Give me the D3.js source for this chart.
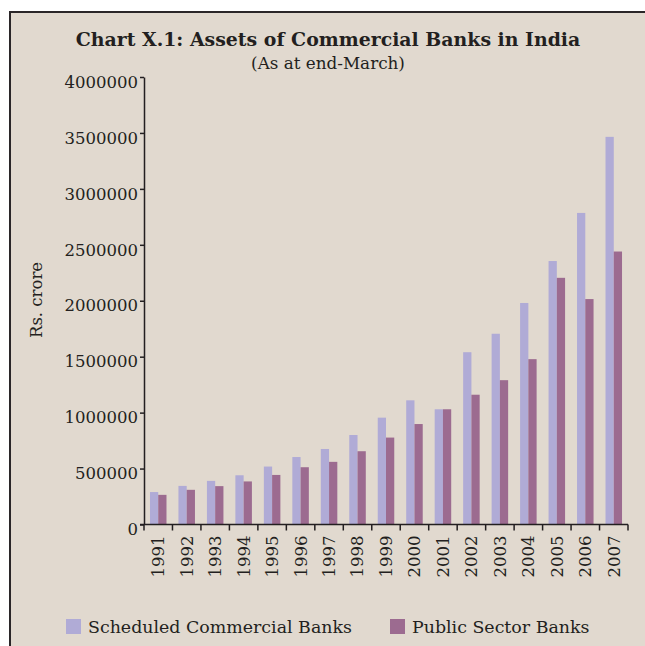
<!DOCTYPE html>
<html>
<head>
<meta charset="utf-8">
<script src="https://cdn.jsdelivr.net/npm/d3@7"></script>
<style>
  body { margin: 0; background: #fff; }
  text { font-family: "DejaVu Serif", serif; fill: #231f20; }
</style>
</head>
<body>
<div id="chart"></div>
<script>
// values in Rs. crore
const years = ['1991', '1992', '1993', '1994', '1995', '1996', '1997', '1998', '1999',
               '2000', '2001', '2002', '2003', '2004', '2005', '2006', '2007'];
const scheduled = [290000, 345000, 390000, 440000, 518000, 603000, 675000, 800000, 955000,
                   1110000, 1030000, 1540000, 1705000, 1980000, 2355000, 2785000, 3465000];
const publicSector = [265000, 310000, 343000, 385000, 443000, 512000, 560000, 655000, 777000,
                      898000, 1030000, 1160000, 1290000, 1478000, 2205000, 2015000, 2440000];
const seriesNames = ['Scheduled Commercial Banks', 'Public Sector Banks'];
const yTicks = [0, 500000, 1000000, 1500000, 2000000, 2500000, 3000000, 3500000, 4000000];

const colors = ['#b0abd6', '#9c6b90'];

const w = 645;
const h = 646;
const pLeft = 144, pRight = 628, pTop = 77, pBottom = 524.5;

const svg = d3.select('#chart')
    .append('svg')
    .attr('width', w)
    .attr('height', h);

// panel
svg.append('rect')
    .attr('x', 9)
    .attr('y', 11)
    .attr('width', w - 9)
    .attr('height', h - 11)
    .attr('fill', '#e1d9cf');
svg.append('path')
    .attr('d', 'M10,' + h + 'V12H' + w)
    .attr('stroke', '#2a2628')
    .attr('stroke-width', 2)
    .attr('fill', 'none');

// title
const title = svg.append('text')
    .text('Chart X.1: Assets of Commercial Banks in India')
    .attr('x', 328)
    .attr('y', 46)
    .attr('text-anchor', 'middle')
    .attr('font-weight', 'bold')
    .attr('font-size', 18);
const tw = title.node().getComputedTextLength();
title.attr('font-size', 18 * 505 / tw);

svg.append('text')
    .text('(As at end-March)')
    .attr('x', 328)
    .attr('y', 69)
    .attr('text-anchor', 'middle')
    .attr('font-size', 16.8);

const xScale = d3.scaleBand(years, [pLeft, pRight]);
const bw = xScale.bandwidth();
const x1 = d3.scaleBand(seriesNames, [bw * 0.21, bw * 0.79]);
const yScale = d3.scaleLinear([0, 4000000], [pBottom, pTop]);

// bars
const rows = years.map((y, i) => ({year: y, vals: [scheduled[i], publicSector[i]]}));
svg.append('g')
    .selectAll('g')
    .data(rows)
    .join('g')
    .attr('transform', d => 'translate(' + xScale(d.year) + ',0)')
    .selectAll('rect')
    .data(d => d.vals.map((v, k) => ({key: seriesNames[k], v: v, k: k})))
    .join('rect')
    .attr('x', d => x1(d.key))
    .attr('width', x1.bandwidth())
    .attr('y', d => yScale(d.v))
    .attr('height', d => pBottom - yScale(d.v))
    .attr('fill', d => colors[d.k]);

// y axis
const yAxis = d3.axisLeft(yScale)
    .tickValues(yTicks)
    .tickFormat(d3.format('d'))
    .tickSize(4)
    .tickSizeOuter(0)
    .tickPadding(2);
svg.append('g')
    .attr('transform', 'translate(' + pLeft + ',0)')
    .call(yAxis)
    .call(g => g.select('.domain').attr('stroke', '#231f20').attr('stroke-width', 1.5))
    .call(g => g.selectAll('.tick line').attr('stroke', '#231f20').attr('stroke-width', 1.5))
    .call(g => g.selectAll('.tick text')
        .attr('font-family', '"DejaVu Serif", serif')
        .attr('font-size', 16.5)
        .attr('fill', '#231f20')
        .attr('dy', '0.62em'));

// x axis with ticks on band edges
const xAxis = d3.axisBottom(xScale).tickSize(0).tickPadding(11);
svg.append('g')
    .attr('transform', 'translate(0,' + pBottom + ')')
    .call(xAxis)
    .call(g => g.select('.domain').remove())
    .call(g => g.selectAll('.tick text')
        .attr('font-family', '"DejaVu Serif", serif')
        .attr('font-size', 16.5)
        .attr('fill', '#231f20')
        .attr('text-anchor', 'end')
        .attr('transform', 'rotate(-90)')
        .attr('x', -11)
        .attr('y', 0)
        .attr('dy', '0.36em'));

svg.append('line')
    .attr('x1', pLeft - 4)
    .attr('x2', pRight)
    .attr('y1', pBottom)
    .attr('y2', pBottom)
    .attr('stroke', '#231f20')
    .attr('stroke-width', 1.5);

svg.append('g')
    .selectAll('line')
    .data(years.concat(['end']))
    .join('line')
    .attr('x1', (d, i) => i < years.length ? xScale(d) : pRight)
    .attr('x2', (d, i) => i < years.length ? xScale(d) : pRight)
    .attr('y1', pBottom)
    .attr('y2', pBottom + 6)
    .attr('stroke', '#231f20')
    .attr('stroke-width', 1.5);

// axis title
svg.append('text')
    .text('Rs. crore')
    .attr('transform', 'translate(42,300) rotate(-90)')
    .attr('text-anchor', 'middle')
    .attr('font-size', 16.5);

// legend
const legX = [66, 390];
const legend = svg.append('g')
    .selectAll('g')
    .data(seriesNames)
    .join('g')
    .attr('transform', (d, i) => 'translate(' + legX[i] + ',619)');
legend.append('rect')
    .attr('width', 15)
    .attr('height', 15)
    .attr('fill', (d, i) => colors[i]);
legend.append('text')
    .text(d => d)
    .attr('x', 22)
    .attr('y', 14)
    .attr('font-size', 17.4);
</script>
</body>
</html>
